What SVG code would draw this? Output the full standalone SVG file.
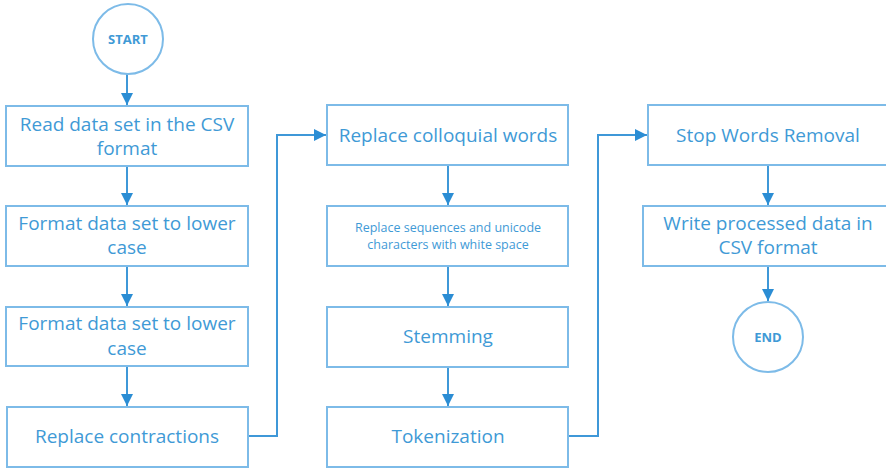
<svg xmlns="http://www.w3.org/2000/svg" width="886" height="468" viewBox="0 0 886 468">
<defs>
<style>
.box{fill:#fff;stroke:#7dbbe8;stroke-width:2}
.t{font-family:"Open Sans","Noto Sans",sans-serif;font-size:19px;fill:#3f9ad6;text-anchor:middle}
.s{font-family:"Open Sans","Noto Sans",sans-serif;font-size:12.5px;fill:#3f9ad6;text-anchor:middle}
.b{font-family:"Open Sans","Noto Sans",sans-serif;font-size:13px;font-weight:bold;fill:#3f9ad6;text-anchor:middle}
.c{fill:none;stroke:#3f98d8;stroke-width:2}
</style>
<marker id="ah" markerWidth="12" markerHeight="12" viewBox="0 0 12 12" refX="12" refY="6" orient="auto" markerUnits="userSpaceOnUse">
<path d="M0,0 L12,6 L0,12 Z" fill="#2b8dd4"/>
</marker>
</defs>
<g id="connectors">
<line class="c" x1="127" y1="74" x2="127" y2="105" marker-end="url(#ah)"/>
<line class="c" x1="127" y1="166" x2="127" y2="205" marker-end="url(#ah)"/>
<line class="c" x1="127" y1="266" x2="127" y2="306" marker-end="url(#ah)"/>
<line class="c" x1="127" y1="366" x2="127" y2="406" marker-end="url(#ah)"/>
<polyline class="c" points="248,436 277,436 277,135 326,135" marker-end="url(#ah)"/>
<line class="c" x1="448" y1="165" x2="448" y2="205" marker-end="url(#ah)"/>
<line class="c" x1="448" y1="266" x2="448" y2="306" marker-end="url(#ah)"/>
<line class="c" x1="448" y1="367" x2="448" y2="406" marker-end="url(#ah)"/>
<polyline class="c" points="568,436 598,436 598,135 647,135" marker-end="url(#ah)"/>
<line class="c" x1="768" y1="165" x2="768" y2="205" marker-end="url(#ah)"/>
<line class="c" x1="768" y1="266" x2="768" y2="301" marker-end="url(#ah)"/>
</g>
<g id="start">
<circle class="box" cx="128" cy="39" r="35"/>
<text class="b" x="128" y="44">START</text>
</g>
<g id="read">
<rect class="box" x="6" y="106" width="242" height="60"/>
<text class="t" x="127" y="131">Read data set in the CSV</text>
<text class="t" x="127" y="155">format</text>
</g>
<g id="lower1">
<rect class="box" x="6" y="206" width="242" height="60"/>
<text class="t" x="127" y="230">Format data set to lower</text>
<text class="t" x="127" y="254">case</text>
</g>
<g id="lower2">
<rect class="box" x="6" y="307" width="242" height="59"/>
<text class="t" x="127" y="330">Format data set to lower</text>
<text class="t" x="127" y="355">case</text>
</g>
<g id="contractions">
<rect class="box" x="7" y="407" width="241" height="60"/>
<text class="t" x="127" y="443">Replace contractions</text>
</g>
<g id="colloquial">
<rect class="box" x="327" y="105" width="241" height="60"/>
<text class="t" x="448" y="142">Replace colloquial words</text>
</g>
<g id="sequences">
<rect class="box" x="327" y="206" width="241" height="60"/>
<text class="s" x="448" y="232">Replace sequences and unicode</text>
<text class="s" x="448" y="249">characters with white space</text>
</g>
<g id="stemming">
<rect class="box" x="327" y="307" width="241" height="60"/>
<text class="t" x="448" y="343">Stemming</text>
</g>
<g id="tokenization">
<rect class="box" x="327" y="407" width="241" height="60"/>
<text class="t" x="448" y="443">Tokenization</text>
</g>
<g id="stopwords">
<rect class="box" x="648" y="105" width="250" height="60"/>
<text class="t" x="768" y="142">Stop Words Removal</text>
</g>
<g id="write">
<rect class="box" x="643" y="206" width="260" height="60"/>
<text class="t" x="768" y="230">Write processed data in</text>
<text class="t" x="768" y="254">CSV format</text>
</g>
<g id="end">
<circle class="box" cx="768" cy="337" r="35"/>
<text class="b" x="768" y="342">END</text>
</g>
</svg>
